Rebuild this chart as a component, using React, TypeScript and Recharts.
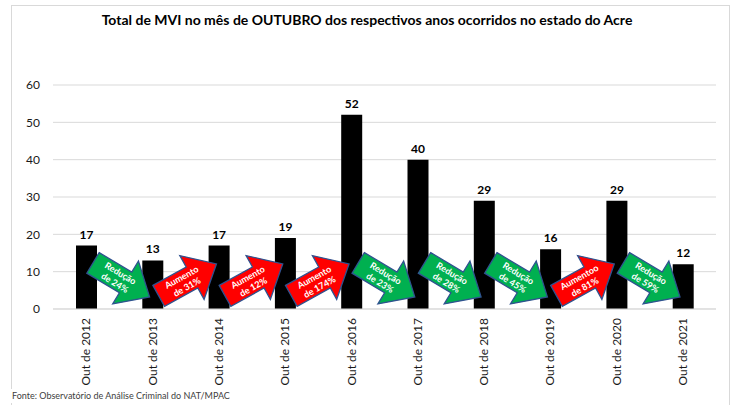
import { ComposedChart, Bar, XAxis, YAxis, CartesianGrid, LabelList, Scatter } from 'recharts';

const years = [
  'Out de 2012', 'Out de 2013', 'Out de 2014', 'Out de 2015', 'Out de 2016',
  'Out de 2017', 'Out de 2018', 'Out de 2019', 'Out de 2020', 'Out de 2021',
];
const totals = [17, 13, 17, 19, 52, 40, 29, 16, 29, 12];
const yTicks = [0, 10, 20, 30, 40, 50, 60];

// variation arrows between consecutive years
const arrowKinds = ['down', 'up', 'up', 'up', 'down', 'down', 'down', 'up', 'down'];
const arrowWords = ['Redução', 'Aumento', 'Aumento', 'Aumento', 'Redução', 'Redução', 'Redução', 'Aumentoo', 'Redução'];
const arrowPcts = ['de 24%', 'de 31%', 'de 12%', 'de 174%', 'de 23%', 'de 28%', 'de 45%', 'de 81%', 'de 59%'];
const arrowLevel = 7.8;

const FONT = 'Lato, "Open Sans", sans-serif';

const data = years.map((year, i) => ({ year, total: totals[i] }));
const arrows = arrowKinds.map((kind, i) => ({
  pos: i + 0.53,
  level: arrowLevel,
  kind,
  word: arrowWords[i],
  pct: arrowPcts[i],
}));

function BlockArrow(props: any) {
  const { cx, cy, payload } = props;
  if (cx == null || cy == null) return null;
  const down = payload.kind === 'down';
  const angle = down ? 31 : -29;
  const fill = down ? '#00B050' : '#FF0000';
  const pts = [
    [-33, -12], [5, -12], [5, -25], [33, 0], [5, 25], [5, 12], [-33, 12],
  ].map((p) => p.join(',')).join(' ');
  return (
    <g transform={`translate(${cx},${cy}) rotate(${angle})`}>
      <polygon points={pts} fill={fill} stroke="#2F528F" strokeWidth={1.3} strokeLinejoin="miter" />
      <text
        fontFamily={FONT}
        fontSize={9}
        fontWeight={700}
        fill="#fff"
        textAnchor="middle"
      >
        <tspan x={-4} y={-2}>{payload.word}</tspan>
        <tspan x={-4} y={9}>{payload.pct}</tspan>
      </text>
    </g>
  );
}

function YearTick(props: any) {
  const { x, y, payload } = props;
  return (
    <text
      x={x}
      y={y}
      transform={`rotate(-90, ${x}, ${y})`}
      textAnchor="end"
      dy="0.35em"
      fontFamily={FONT}
      fontSize={12}
      fill="#1a1a1a"
    >
      {payload.value}
    </text>
  );
}

export default function App() {
  return (
    <div style={{ position: 'absolute', left: 0, top: 0, width: 734, height: 405, background: '#fff' }}>
      <div
        style={{
          position: 'absolute',
          left: 11,
          top: 5,
          width: 717,
          height: 400,
          borderTop: '1px solid #D9D9D9',
          borderLeft: '1px solid #D9D9D9',
          borderRight: '1px solid #D9D9D9',
        }}
      />
      <div
        style={{
          position: 'absolute',
          left: 0,
          top: 11,
          width: 734,
          textAlign: 'center',
          fontFamily: FONT,
          fontWeight: 700,
          fontSize: 14,
          lineHeight: '18px',
          color: '#000',
        }}
      >
        Total de MVI no mês de OUTUBRO dos respectivos anos ocorridos no estado do Acre
      </div>
      <ComposedChart
        width={734}
        height={405}
        data={data}
        margin={{ top: 85, right: 18, bottom: 16, left: 13 }}
        style={{ position: 'absolute', left: 0, top: 0 }}
      >
        <CartesianGrid vertical={false} stroke="#D9D9D9" />
        <XAxis
          dataKey="year"
          interval={0}
          height={80}
          tickLine={false}
          tickSize={0}
          tickMargin={9}
          axisLine={{ stroke: '#D9D9D9' }}
          tick={<YearTick />}
        />
        <XAxis xAxisId="arr" type="number" dataKey="pos" domain={[-0.5, 9.5]} allowDataOverflow hide />
        <YAxis
          domain={[0, 60]}
          ticks={yTicks}
          width={40}
          axisLine={false}
          tickLine={false}
          tickSize={0}
          tickMargin={13}
          tick={{ fontFamily: FONT, fontSize: 12, fill: '#1a1a1a' }}
        />
        <Bar dataKey="total" fill="#000" barSize={21} isAnimationActive={false}>
          <LabelList
            dataKey="total"
            position="top"
            offset={7}
            style={{ fontFamily: FONT, fontSize: 12, fontWeight: 700, fill: '#000' }}
          />
        </Bar>
        <Scatter
          xAxisId="arr"
          data={arrows}
          dataKey="level"
          shape={(p: any) => <BlockArrow {...p} />}
          isAnimationActive={false}
        />
      </ComposedChart>
      <div
        style={{
          position: 'absolute',
          left: 10,
          top: 389,
          padding: '0 2px',
          background: '#fff',
          fontFamily: FONT,
          fontSize: 9,
          lineHeight: '14px',
          color: '#404040',
        }}
      >
        Fonte: Observatório de Análise Criminal do NAT/MPAC
      </div>
    </div>
  );
}
